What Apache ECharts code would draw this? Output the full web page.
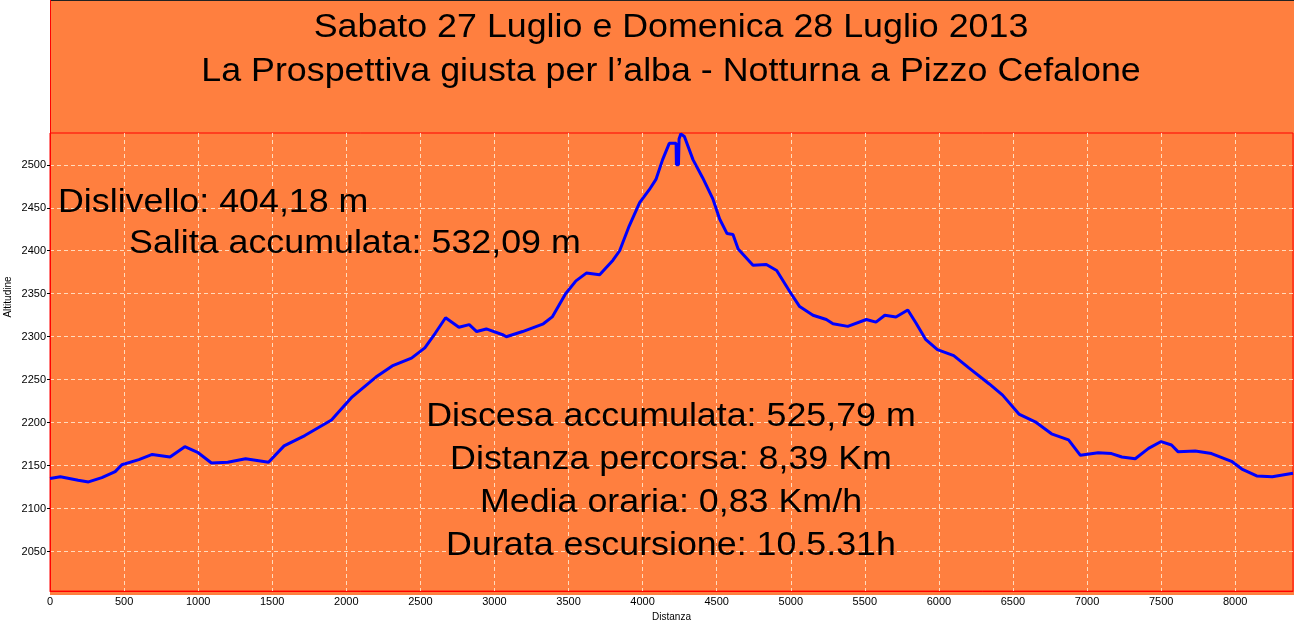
<!DOCTYPE html>
<html>
  <head>
    <meta charset="UTF-8" />
    <title>Pizzo Cefalone</title>
    <style type="text/css">
      html,
      body {
        width: 100%;
        height: 100%;
        margin: 0;
        padding: 0;
        overflow: hidden;
        background: #fff;
      }
      #chart {
        width: 1294px;
        height: 627px;
      }
    </style>
  </head>
  <body>
    <div id="chart"></div>
    <script src="https://cdn.jsdelivr.net/npm/echarts@6/dist/echarts.min.js"></script>
    <script type="text/javascript">
      // profilo altimetrico: distanza (m) e altitudine (m)
      const distanze = [
        0, 70, 190, 260, 350, 440, 485, 600, 690, 810, 910, 1000, 1090, 1200,
        1320, 1475, 1580, 1720, 1900, 2040, 2200, 2310, 2440, 2530, 2600, 2670,
        2760, 2830, 2880, 2945, 3060, 3080, 3190, 3330, 3390, 3480, 3550, 3620,
        3710, 3800, 3845, 3910, 3980, 4045, 4090, 4135, 4180, 4226, 4228, 4242,
        4246, 4258, 4282, 4340, 4405, 4475, 4520, 4570, 4610, 4645, 4745, 4835,
        4905, 4995, 5060, 5150, 5240, 5285, 5385, 5510, 5575, 5635, 5710, 5790,
        5845, 5910, 5990, 6100, 6200, 6340, 6430, 6540, 6650, 6760, 6875, 6955,
        7075, 7165, 7235, 7325, 7415, 7500, 7570, 7615, 7730, 7840, 7975, 8045,
        8145, 8250, 8390,
      ];
      const altitudini = [
        2135, 2137, 2133, 2131, 2136, 2143, 2151, 2157, 2163, 2160, 2172, 2165,
        2153, 2154, 2158, 2154, 2173, 2185, 2203, 2230, 2253, 2266, 2275, 2287,
        2304, 2322, 2311, 2314, 2306, 2309, 2302, 2300, 2306, 2315, 2323, 2350,
        2365, 2374, 2372, 2389, 2400, 2429, 2456, 2471, 2483, 2506, 2525, 2525,
        2500, 2500, 2530, 2536, 2533, 2506, 2485, 2460, 2437, 2420, 2419, 2402,
        2383, 2384, 2377, 2352, 2335, 2325, 2320, 2315, 2312, 2320, 2317, 2325,
        2323, 2331, 2316, 2297, 2285, 2278, 2264, 2245, 2232, 2210, 2201, 2187,
        2180, 2162, 2165, 2164, 2160, 2158, 2170, 2178, 2174, 2166, 2167, 2164,
        2155, 2146, 2138, 2137, 2141,
      ];
      const xTicks = [
        0, 500, 1000, 1500, 2000, 2500, 3000, 3500, 4000, 4500, 5000, 5500,
        6000, 6500, 7000, 7500, 8000,
      ];
      const yTicks = [
        2050, 2100, 2150, 2200, 2250, 2300, 2350, 2400, 2450, 2500,
      ];
      const titolo = [
        "Sabato 27 Luglio e Domenica 28 Luglio 2013",
        "La Prospettiva giusta per l\u2019alba - Notturna a Pizzo Cefalone",
      ];
      const statistiche = [
        "Discesa accumulata: 525,79 m",
        "Distanza percorsa: 8,39 Km",
        "Media oraria: 0,83 Km/h",
        "Durata escursione: 10.5.31h",
      ];

      const FONT = "Arial, 'Liberation Sans', sans-serif";
      const ARANCIO = "#FF7F3F";

      const chart = echarts.init(document.getElementById("chart"));

      const profilo = distanze.map((d, i) => [d, altitudini[i]]);

      // testo grande, un po' allargato come nell'originale
      const bigText = (txt, x, y, align) => ({
        type: "text",
        x: x,
        y: y,
        scaleX: 1.085,
        z: 10,
        style: {
          text: txt,
          fill: "#000",
          font: "33px " + FONT,
          textAlign: align,
          textVerticalAlign: "bottom",
        },
      });

      const graphic = [
        {
          type: "rect",
          z: -10,
          shape: { x: 50, y: 0, width: 1244, height: 595 },
          style: { fill: ARANCIO },
        },
        {
          type: "line",
          z: 5,
          shape: { x1: 50, y1: 0.5, x2: 1294, y2: 0.5 },
          style: { stroke: "#222", lineWidth: 1 },
        },
        {
          type: "line",
          z: 5,
          shape: { x1: 50.5, y1: 0, x2: 50.5, y2: 134 },
          style: { stroke: "#FF0000", lineWidth: 1 },
        },
        {
          type: "text",
          x: 8,
          y: 297,
          rotation: Math.PI / 2,
          style: {
            text: "Altitudine",
            fill: "#000",
            font: "10px " + FONT,
            textAlign: "center",
            textVerticalAlign: "middle",
          },
        },
        bigText(titolo[0], 671, 44, "center"),
        bigText(titolo[1], 671, 88, "center"),
        bigText("Dislivello: 404,18 m", 58, 219, "left"),
        bigText("Salita accumulata: 532,09 m", 129, 260, "left"),
      ];
      statistiche.forEach((s, i) => {
        graphic.push(bigText(s, 671, 433 + i * 43.3, "center"));
      });

      const plain = (v) => String(v);

      chart.setOption({
        animation: false,
        backgroundColor: "#fff",
        textStyle: { fontFamily: FONT },
        graphic: graphic,
        grid: {
          left: 50,
          right: 1,
          top: 133,
          bottom: 32,
          show: true,
          borderColor: "#FF0000",
          borderWidth: 1,
          backgroundColor: "transparent",
        },
        xAxis: {
          type: "value",
          min: 0,
          max: 8390,
          name: "Distanza",
          nameLocation: "middle",
          nameGap: 20,
          nameTextStyle: { color: "#000", fontSize: 10, fontFamily: FONT },
          axisLine: { show: true, lineStyle: { color: "#FF0000", width: 1 } },
          axisTick: { show: false, customValues: xTicks },
          axisLabel: {
            color: "#000",
            fontSize: 11,
            fontFamily: FONT,
            margin: 5,
            formatter: plain,
            customValues: xTicks,
          },
          splitLine: {
            show: true,
            lineStyle: {
              color: "rgba(255,235,210,0.85)",
              type: [4, 3],
              width: 1,
            },
          },
        },
        yAxis: {
          type: "value",
          min: 2004,
          max: 2537,
          axisLine: { show: true, lineStyle: { color: "#FF0000", width: 1 } },
          axisTick: {
            show: true,
            length: 3,
            lineStyle: { color: "#000" },
            customValues: yTicks,
          },
          axisLabel: {
            color: "#000",
            fontSize: 11,
            fontFamily: FONT,
            margin: 4,
            formatter: plain,
            customValues: yTicks,
          },
          splitLine: {
            show: true,
            lineStyle: {
              color: "rgba(255,235,210,0.85)",
              type: [4, 3],
              width: 1,
            },
          },
        },
        series: [
          {
            type: "line",
            data: profilo,
            showSymbol: false,
            symbol: "none",
            z: 3,
            lineStyle: { color: "#0000FF", width: 3 },
          },
        ],
      });
    </script>
  </body>
</html>
